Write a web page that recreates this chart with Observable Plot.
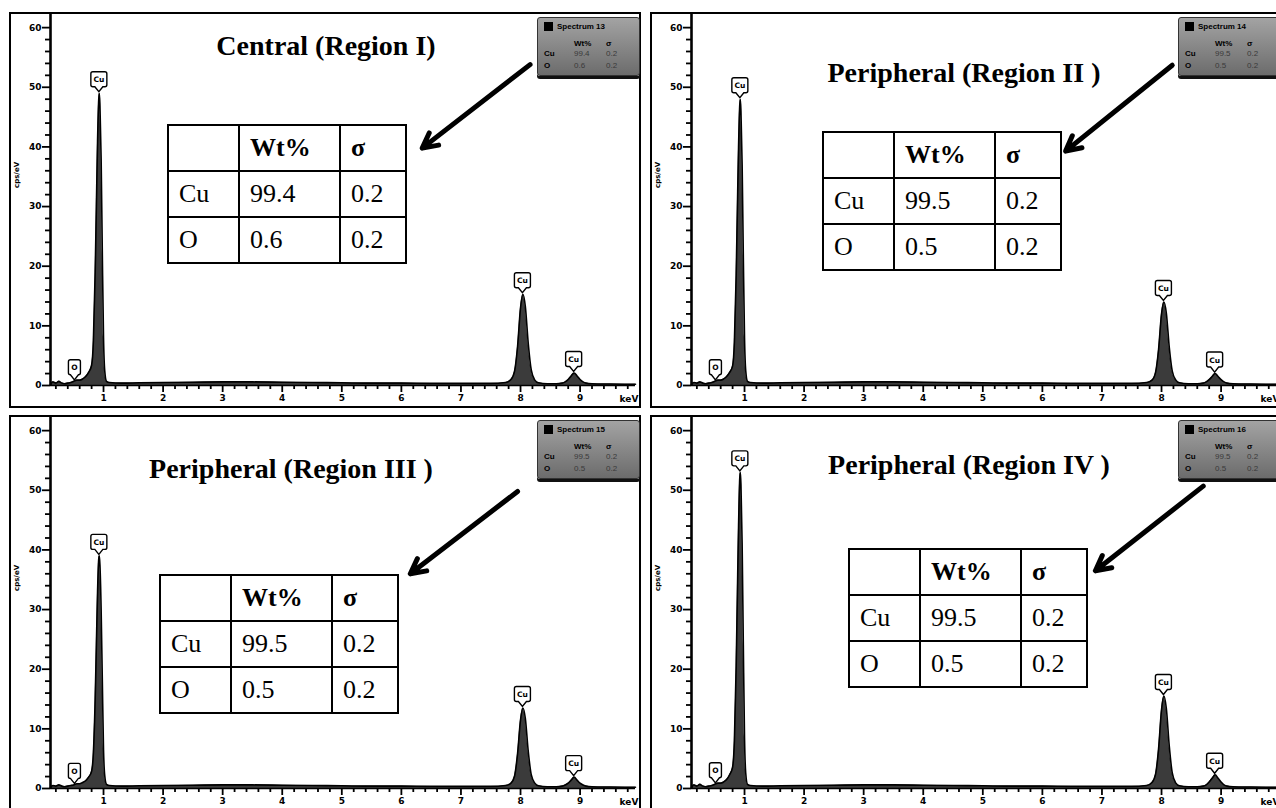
<!DOCTYPE html>
<html><head><meta charset="utf-8">
<script src="https://cdn.jsdelivr.net/npm/d3@7"></script>
<script src="https://cdn.jsdelivr.net/npm/@observablehq/plot@0.6"></script>
<style>
html,body{margin:0;padding:0;background:#fff;width:1276px;height:808px;overflow:hidden;position:relative;}
.panel{position:absolute;width:632px;height:396px;border:2px solid #000;box-sizing:border-box;background:#fff;overflow:hidden;}
.panel svg{position:absolute;left:0;top:0;}
.panel svg text{font-weight:bold;}
.title{position:absolute;font-family:"Liberation Serif","Times New Roman",serif;font-weight:bold;font-size:28px;line-height:28px;white-space:nowrap;transform:translateX(-50%);}
table.res{position:absolute;border-collapse:collapse;font-family:"Liberation Serif","Times New Roman",serif;font-size:26px;background:#fff;}
table.res td{border:2px solid #000;padding:0 0 0 10px;height:46px;box-sizing:border-box;}
.spec{position:absolute;width:101px;height:57px;background:linear-gradient(#a3a3a3,#6c6c6c);border:1px solid #333;border-radius:3px;box-shadow:0 3px 0 #111;font-family:"Liberation Sans",Arial,sans-serif;font-size:8px;font-weight:bold;color:#000;}
.spec span{position:absolute;white-space:nowrap;line-height:9px;}
.spec .v{font-weight:normal;color:#3a3a3a;}
.spec .sq{width:9px;height:9px;background:#000;}
</style></head><body>
<script>
// ---- data ----
const energyKeV = [0.11,0.15,0.2,0.25,0.3,0.35,0.4,0.45,0.5,0.55,0.6,0.65,0.7,0.75,0.8,
  0.83,0.86,0.88,0.9,0.92,0.93,0.94,0.96,0.98,1.0,1.02,1.05,
  1.1,1.3,1.6,2,2.5,3,3.5,4,4.5,5,5.5,6,6.5,7,7.5,7.75,
  7.84,7.9,7.95,8.0,8.04,8.08,8.13,8.18,8.24,8.3,8.45,8.6,
  8.7,8.75,8.8,8.85,8.9,8.95,9.0,9.05,9.1,9.2,9.5,9.93];
const cpsRegion1 = [0.2,0.6,0.4,0.7,0.4,0.3,0.4,0.5,0.7,0.9,0.9,1.1,1.5,2.2,3.4,
  7.5,19,30,41,48,49,47,38,22,8,2.5,0.7,
  0.5,0.4,0.45,0.5,0.55,0.6,0.6,0.55,0.5,0.45,0.4,0.4,0.35,0.35,0.35,0.5,
  1.0,2.4,6.5,13,15.3,13.3,7,2.6,0.9,0.45,0.3,0.3,
  0.4,0.6,1.0,1.6,2.1,1.6,1.0,0.6,0.4,0.3,0.25,0.2];
const cpsRegion2 = [0.2,0.5,0.4,0.6,0.4,0.3,0.4,0.5,0.7,0.9,0.9,1.1,1.5,2.2,3.3,
  7.3,18.5,29.5,40,47,48,46,37,21.5,8,2.5,0.7,
  0.5,0.4,0.45,0.5,0.55,0.6,0.6,0.55,0.5,0.45,0.4,0.4,0.35,0.35,0.35,0.5,
  0.9,2.2,6,12,14,12.2,6.4,2.4,0.9,0.45,0.3,0.3,
  0.4,0.6,1.0,1.5,2.0,1.5,1.0,0.6,0.4,0.3,0.25,0.2];
const cpsRegion3 = [0.2,0.5,0.4,0.6,0.4,0.3,0.4,0.5,0.6,0.8,0.8,1.0,1.3,1.9,2.9,
  6,15,24,33,38.5,39,37.5,30,18,6.5,2.2,0.7,
  0.5,0.4,0.45,0.5,0.55,0.6,0.6,0.55,0.5,0.45,0.4,0.4,0.35,0.35,0.35,0.5,
  0.9,2.1,5.8,11.5,13.5,11.8,6.2,2.3,0.9,0.45,0.3,0.3,
  0.4,0.6,0.9,1.4,1.9,1.4,0.9,0.6,0.4,0.3,0.25,0.2];
const cpsRegion4 = [0.2,0.6,0.4,0.7,0.4,0.3,0.4,0.5,0.7,0.9,0.9,1.1,1.5,2.3,3.6,
  8,20.5,32.5,44,52,53,51,41,24,8.5,2.6,0.7,
  0.5,0.4,0.45,0.5,0.55,0.6,0.6,0.55,0.5,0.45,0.4,0.4,0.35,0.35,0.35,0.5,
  1.0,2.4,6.6,13.2,15.5,13.5,7.1,2.6,0.9,0.45,0.3,0.3,
  0.4,0.6,1.1,1.7,2.3,1.7,1.1,0.6,0.4,0.3,0.25,0.2];

const regionTitles = ["Central (Region I)", "Peripheral (Region II )", "Peripheral (Region III )", "Peripheral (Region IV )"];
const spectrumNames = ["Spectrum 13", "Spectrum 14", "Spectrum 15", "Spectrum 16"];
const elements = ["Cu", "O"];
const wtCu = [99.4, 99.5, 99.5, 99.5];
const wtO = [0.6, 0.5, 0.5, 0.5];
const sigmaCu = [0.2, 0.2, 0.2, 0.2];
const sigmaO = [0.2, 0.2, 0.2, 0.2];
const peakLabelEnergy = [0.52, 0.93, 8.04, 8.9];
const peakLabelText = ["O", "Cu", "Cu", "Cu"];
const xMajorTicks = [1, 2, 3, 4, 5, 6, 7, 8, 9];
const yMajorTicks = [0, 10, 20, 30, 40, 50, 60];
const xUnit = "keV";
const yUnit = "cps/eV";
// arrow endpoints in data units (keV, cps/eV)
const arrowStartKeV = [8.16, 8.18, 7.95, 8.70];
const arrowStartCps = [53.8, 53.7, 49.8, 50.7];
const arrowEndKeV = [6.35, 6.39, 6.15, 6.89];
const arrowEndCps = [39.8, 39.3, 36.0, 36.5];

// ---- layout ----
const cpsSeries = [cpsRegion1, cpsRegion2, cpsRegion3, cpsRegion4];
const layout = [
  {left: 9, top: 12, titleX: 326, titleY: 47, tableL: 167, tableT: 124, specL: 537, specT: 17},
  {left: 650, top: 12, titleX: 964, titleY: 74, tableL: 822, tableT: 131, specL: 1178, specT: 17},
  {left: 9, top: 415, titleX: 291, titleY: 470, tableL: 159, tableT: 574, specL: 537, specT: 420},
  {left: 650, top: 415, titleX: 969, titleY: 466, tableL: 848, tableT: 548, specL: 1178, specT: 420}
];
const xMinor = d3.range(0.2, 9.9, 0.2).filter(v => Math.abs(v - Math.round(v)) > 0.05);
const yMinor = d3.range(2, 62, 2).filter(v => v % 10 !== 0);

layout.forEach((L, i) => {
  const data = energyKeV.map((e, k) => ({e, c: cpsSeries[i][k]}));
  const arrow = [{x1: arrowStartKeV[i], y1: arrowStartCps[i], x2: arrowEndKeV[i], y2: arrowEndCps[i]}];
  const chart = Plot.plot({
    width: 628, height: 392,
    marginLeft: 39, marginRight: 4, marginTop: 0, marginBottom: 21,
    x: {domain: [0.11, 9.93]},
    y: {domain: [0, 62.2]},
    style: {fontFamily: "DejaVu Sans, sans-serif", fontSize: "9px", background: "white", color: "black"},
    marks: [
      Plot.areaY(data, {x: "e", y: "c", fill: "#3b3b3b", curve: "monotone-x"}),
      Plot.lineY(data, {x: "e", y: "c", stroke: "black", strokeWidth: 1.6, curve: "monotone-x"}),
      Plot.ruleY([0], {stroke: "black", strokeWidth: 1.5}),
      Plot.ruleX([0.11], {stroke: "black", strokeWidth: 2.6}),
      Plot.axisY({ticks: yMajorTicks, tickSize: 8, tickPadding: 1, fontSize: 9, fontWeight: "bold", label: null, strokeWidth: 1.8}),
      Plot.axisY({ticks: yMinor, tickSize: 5, tickFormat: () => "", label: null, strokeWidth: 1.8}),
      Plot.axisX({ticks: xMajorTicks, tickSize: 7, tickPadding: 2, fontSize: 9, fontWeight: "bold", label: null, strokeWidth: 1.8}),
      Plot.axisX({ticks: xMinor, tickSize: 4, tickFormat: () => "", label: null, strokeWidth: 1.8}),
      Plot.text([xUnit], {x: () => 9.82, y: () => 0, text: d => d, dy: 14, fontSize: 9, fontWeight: "bold", textAnchor: "middle"}),
      Plot.text([yUnit], {frameAnchor: "left", text: d => d, dx: -34, dy: -12, rotate: -90, fontSize: 7, fontWeight: "bold"}),
      Plot.arrow(arrow, {x1: "x1", y1: "y1", x2: "x2", y2: "y2", stroke: "black", strokeWidth: 5, headLength: 5, headAngle: 55})
    ]
  });
  const div = document.createElement("div");
  div.className = "panel";
  div.style.left = L.left + "px";
  div.style.top = L.top + "px";
  div.appendChild(chart);
  document.body.appendChild(div);

  // peak labels
  const sx = chart.scale("x"), sy = chart.scale("y");
  const g = d3.select(chart).append("g");
  peakLabelEnergy.forEach((e, j) => {
    const near = d3.least(data, d => Math.abs(d.e - e));
    const px = sx.apply(e), py = sy.apply(near.c);
    const w = peakLabelText[j] === "O" ? 12 : 16;
    const top = py - 21, bot = py - 6, l = px - w / 2, r = px + w / 2;
    g.append("path")
      .attr("d", `M${l+2},${top}H${r-2}Q${r},${top} ${r},${top+2}V${bot-2}Q${r},${bot} ${r-2},${bot}H${px+4}L${px},${py-1}L${px-4},${bot}H${l+2}Q${l},${bot} ${l},${bot-2}V${top+2}Q${l},${top} ${l+2},${top}Z`)
      .attr("fill", "white").attr("stroke", "black").attr("stroke-width", 1.4);
    g.append("text").attr("x", px).attr("y", top + 10.5).attr("text-anchor", "middle")
      .attr("font-size", 7.5).attr("font-weight", "bold").attr("font-family", "DejaVu Sans, sans-serif")
      .text(peakLabelText[j]);
  });

  // title
  const t = document.createElement("div");
  t.className = "title";
  t.style.left = L.titleX + "px";
  t.style.top = (L.titleY - 15) + "px";
  t.textContent = regionTitles[i];
  document.body.appendChild(t);

  // result table
  const tb = document.createElement("table");
  tb.className = "res";
  tb.style.left = L.tableL + "px";
  tb.style.top = L.tableT + "px";
  const rows = [["", "Wt%", "σ"], [elements[0], String(wtCu[i]), String(sigmaCu[i])], [elements[1], String(wtO[i]), String(sigmaO[i])]];
  const widths = [71, 101, 66];
  rows.forEach((row, ri) => {
    const tr = document.createElement("tr");
    row.forEach((cell, ci) => {
      const td = document.createElement("td");
      td.style.width = widths[ci] + "px";
      td.textContent = cell;
      if (ri === 0) td.style.fontWeight = "bold";
      tr.appendChild(td);
    });
    tb.appendChild(tr);
  });
  document.body.appendChild(tb);

  // spectrum box
  const s = document.createElement("div");
  s.className = "spec";
  s.style.left = L.specL + "px";
  s.style.top = L.specT + "px";
  const items = [
    ["sq", "", 6, 4], ["", spectrumNames[i], 19, 4],
    ["", "Wt%", 36, 21], ["", "σ", 68, 21],
    ["", elements[0], 6, 31], ["v", String(wtCu[i]), 36, 31], ["v", String(sigmaCu[i]), 68, 31],
    ["", elements[1], 6, 43], ["v", String(wtO[i]), 36, 43], ["v", String(sigmaO[i]), 68, 43]
  ];
  items.forEach(([cls, txt, x, y]) => {
    const sp = document.createElement("span");
    if (cls) sp.className = cls;
    sp.style.left = x + "px"; sp.style.top = y + "px";
    sp.textContent = txt;
    s.appendChild(sp);
  });
  document.body.appendChild(s);
});
</script>
</body></html>
